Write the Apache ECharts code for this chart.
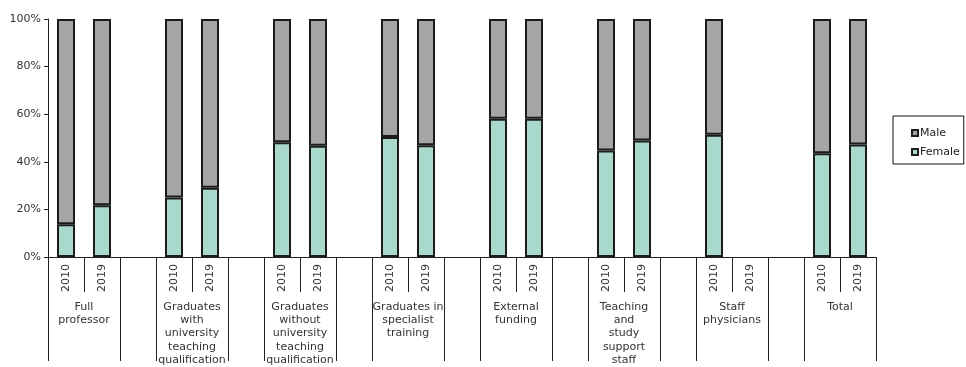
<!DOCTYPE html>
<html>
<head>
<meta charset="utf-8">
<script src="https://cdn.jsdelivr.net/npm/echarts@6/dist/echarts.min.js"></script>
<style>
  html, body { margin: 0; padding: 0; background: #fff; overflow: hidden; }
  #chart { width: 966px; height: 367px; }
</style>
</head>
<body>
<div id="chart"></div>
<script>
// Staff groups, each with a 2010 and a 2019 bar
const groups = [
  'Full\nprofessor',
  'Graduates\nwith\nuniversity\nteaching\nqualification',
  'Graduates\nwithout\nuniversity\nteaching\nqualification',
  'Graduates in\nspecialist\ntraining',
  'External\nfunding',
  'Teaching\nand\nstudy\nsupport\nstaff',
  'Staff\nphysicians',
  'Total'
];
const years = ['2010', '2019'];

// Female share in percent, per group: [2010, 2019]
const female2010 = [13.8, 25.0, 48.2, 50.4, 58.1, 44.8, 51.4, 43.6];
const female2019 = [21.7, 29.1, 46.7, 47.0, 58.1, 49.0, null, 47.3];

const yTicks = [0, 20, 40, 60, 80, 100];

// Slot layout: 2010, 2019, gap, 2010, 2019, gap, ... (no trailing gap)
const slotLabels = [];
const femaleSlots = [];
const maleSlots = [];
groups.forEach((g, i) => {
  const vals = [female2010[i], female2019[i]];
  years.forEach((y, j) => {
    slotLabels.push(y);
    const f = vals[j];
    femaleSlots.push(f == null ? '-' : f);
    maleSlots.push(f == null ? '-' : +(100 - f).toFixed(1));
  });
  if (i < groups.length - 1) {
    slotLabels.push('');
    femaleSlots.push('-');
    maleSlots.push('-');
  }
});

// Boundary points for the group-label axis: one per slot edge
const edgeLabels = [];
for (let k = 0; k <= slotLabels.length; k++) {
  edgeLabels.push(k % 3 === 1 ? groups[(k - 1) / 3] : '');
}

const font = 'DejaVu Sans';
const textColor = '#333';
const border = '#1c1c1c';

const chart = echarts.init(document.getElementById('chart'), null, { renderer: 'canvas' });
chart.setOption({
  animation: false,
  textStyle: { fontFamily: font },
  grid: { left: 48, width: 828, top: 19, height: 244, containLabel: false },
  legend: {
    data: ['Male', 'Female'],
    orient: 'vertical',
    left: 893,
    top: 116,
    borderColor: '#111',
    borderWidth: 1,
    padding: [10, 4, 5, 18],
    itemGap: 5,
    itemWidth: 6,
    itemHeight: 6,
    icon: 'rect',
    textStyle: { fontFamily: font, fontSize: 11, lineHeight: 14, color: '#222', padding: [0, 0, 0, -3] }
  },
  xAxis: [
    {
      type: 'category',
      data: slotLabels,
      boundaryGap: true,
      axisLine: { show: true, lineStyle: { color: '#222', width: 1 } },
      axisTick: { show: true, interval: 0, length: 35, lineStyle: { color: '#222', width: 1 } },
      axisLabel: {
        interval: 0,
        rotate: 90,
        margin: 7,
        fontSize: 11,
        color: textColor,
        fontFamily: font
      }
    },
    {
      type: 'category',
      data: edgeLabels,
      boundaryGap: false,
      position: 'bottom',
      axisLine: { show: false },
      axisTick: {
        show: true,
        interval: (idx) => idx % 3 !== 1,
        length: 104,
        lineStyle: { color: '#222', width: 1 }
      },
      axisLabel: {
        interval: (idx) => idx % 3 === 1,
        margin: 43,
        fontSize: 11,
        lineHeight: 13.4,
        color: textColor,
        align: 'center',
        verticalAlign: 'top',
        fontFamily: font
      }
    }
  ],
  yAxis: {
    type: 'value',
    min: 0,
    max: 100,
    interval: 20,
    axisLine: { show: true, lineStyle: { color: '#222', width: 1 } },
    axisTick: { show: true, length: 4, lineStyle: { color: '#222' } },
    splitLine: { show: false },
    axisLabel: {
      margin: 7,
      fontSize: 11,
      color: textColor,
      fontFamily: font,
      formatter: (v) => (yTicks.indexOf(v) >= 0 ? v + '%' : '')
    }
  },
  series: [
    {
      name: 'Female',
      type: 'bar',
      stack: 'share',
      barWidth: '50%',
      data: femaleSlots,
      itemStyle: { color: '#A9D9CC', borderColor: border, borderWidth: 2 }
    },
    {
      name: 'Male',
      type: 'bar',
      stack: 'share',
      barWidth: '50%',
      data: maleSlots,
      itemStyle: { color: '#A5A5A5', borderColor: border, borderWidth: 2 }
    }
  ]
});
</script>
</body>
</html>
